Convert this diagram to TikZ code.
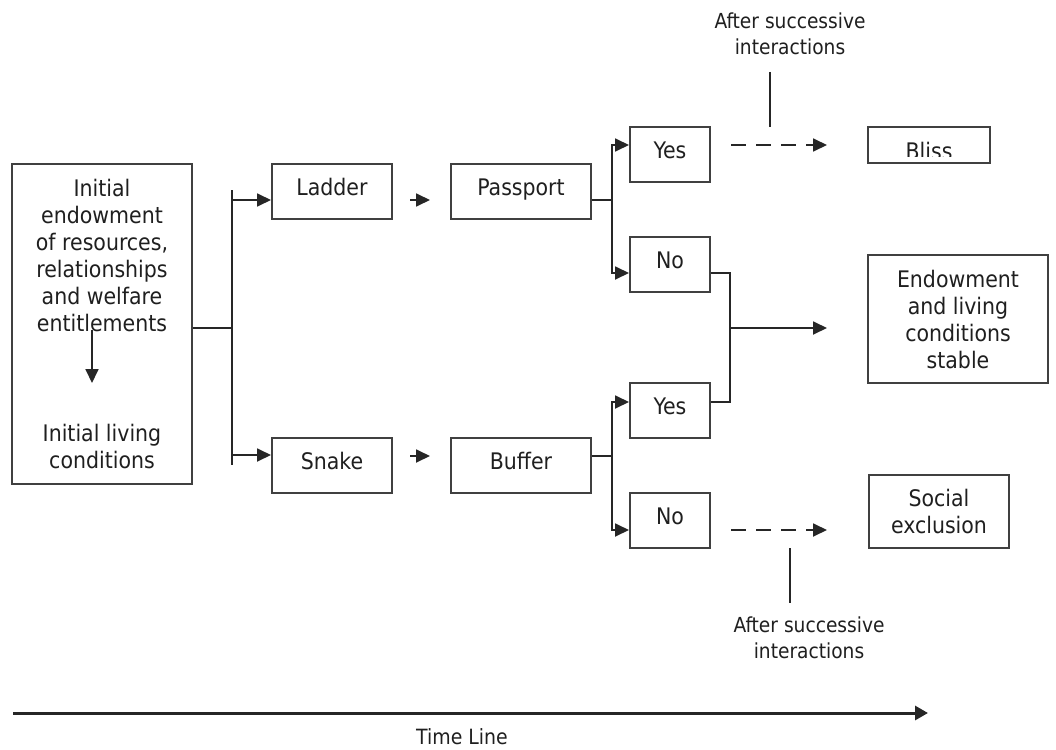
\documentclass[tikz,border=0pt]{standalone}
\usepackage{fontspec}
\setmainfont{DejaVu Sans Condensed}
\usetikzlibrary{arrows.meta,calc}
\begin{document}
\begin{tikzpicture}[x=1pt,y=-1pt,
  boxline/.style={draw=black!75,line width=2pt},
  box/.style={boxline,inner sep=0pt,minimum width=#1,minimum height=55pt,
    text height=16.6pt,text depth=8pt,font=\fontsize{22.8}{27}\selectfont,text=black!88},
  box/.default=80pt,
  mbox/.style={boxline,inner sep=0pt,align=center,font=\fontsize{22.8}{27}\selectfont,text=black!88},
  txt/.style={inner sep=0pt,align=center,font=\fontsize{22.8}{27}\selectfont,text=black!88},
  note/.style={inner sep=0pt,align=center,font=\fontsize{20.7}{26}\selectfont,text=black!88},
  conn/.style={line width=1.8pt,draw=black!85},
  arr/.style={conn,-{Triangle[length=14pt,width=13pt]}},
  dasharr/.style={arr,dash pattern=on 15pt off 10pt}
]
\useasboundingbox (0,0) rectangle (1056,749);

% initial box
\node[boxline,minimum width=180pt,minimum height=320pt,inner sep=0pt] (init) at (102,324) {};
\node[txt] (endow) at (102,255) {Initial\\endowment\\of resources,\\relationships\\and welfare\\entitlements};
\node[txt] (livc) at (102,446) {Initial living\\conditions};
\coordinate (ia) at (92,330);
\coordinate (ib) at (92,383);
\draw[arr] (ia) -- (ib);

% second column
\node[box=120pt] (ladder) at (332,191.5) {Ladder};
\node[box=120pt] (snake) at (332,465.5) {Snake};
\node[box=140pt] (passport) at (521,191.5) {Passport};
\node[box=140pt] (buffer) at (521,465.5) {Buffer};

% yes / no boxes
\node[box] (yes1) at (670,154.5) {Yes};
\node[box] (no1) at (670,264.5) {No};
\node[box] (yes2) at (670,410.5) {Yes};
\node[box] (no2) at (670,520.5) {No};

% outcomes
\node[boxline,minimum width=122pt,minimum height=36pt,inner sep=0pt] (bliss) at (929,145) {};
\begin{scope}
  \clip (868,127) rectangle (990,156);
  \node[txt,anchor=base] (blisstext) at (929,159.6) {Bliss};
\end{scope}
\node[mbox,minimum width=180pt,minimum height=128pt] (endst) at (958,319) {Endowment\\and living\\conditions\\stable};
\node[mbox,minimum width=140pt,minimum height=73pt] (social) at (939,511.5) {Social\\exclusion};

% bracket from initial box
\coordinate (bt) at (232,190);
\coordinate (bb) at (232,465);
\coordinate (io) at ([yshift=-4pt]init.east);
\draw[conn] (io) -- (io -| bt);
\draw[conn] (bt) -- (bb);
\coordinate (la) at ([yshift=-8.5pt]ladder.west);
\coordinate (sa) at ([yshift=10.5pt]snake.west);
\draw[arr] (bt |- la) -- (la);
\draw[arr] (bt |- sa) -- (sa);

% short arrows
\draw[arr,shorten <=17pt,shorten >=20pt] ([yshift=-8.5pt]ladder.east) -- ([yshift=-8.5pt]passport.west);
\draw[arr,shorten <=17pt,shorten >=20pt] ([yshift=9.5pt]snake.east) -- ([yshift=9.5pt]buffer.west);

% passport split
\coordinate (po) at ([yshift=-8.5pt]passport.east);
\coordinate (pv) at ([xshift=20pt]po);
\draw[conn] (po) -- (pv);
\draw[arr] (pv) |- ([yshift=9.5pt]yes1.west);
\draw[arr] (pv) |- ([yshift=-8.5pt]no1.west);

% buffer split
\coordinate (bo) at ([yshift=9.5pt]buffer.east);
\coordinate (bv) at ([xshift=20pt]bo);
\draw[conn] (bo) -- (bv);
\draw[arr] (bv) |- ([yshift=8.5pt]yes2.west);
\draw[arr] (bv) |- ([yshift=-9.5pt]no2.west);

% merge to stable
\coordinate (mj) at (730,328);
\draw[conn] ([yshift=-8.5pt]no1.east) -| (mj);
\draw[conn] ([yshift=8.5pt]yes2.east) -| (mj);
\draw[arr] (mj) -- ([xshift=-40pt,yshift=-9pt]endst.west);

% dashed arrows
\draw[dasharr] ([xshift=20pt,yshift=9.5pt]yes1.east) -- ([xshift=-40pt]bliss.west);
\draw[dasharr] ([xshift=20pt,yshift=-9.5pt]no2.east) -- ([xshift=-41pt,yshift=-18.5pt]social.west);

% annotations
\node[note] (aft1) at (790,34) {After successive\\interactions};
\coordinate (a1a) at (770,72);
\coordinate (a1b) at (770,127);
\draw[conn,line width=1.5pt] (a1a) -- (a1b);
\node[note] (aft2) at (809,638) {After successive\\interactions};
\coordinate (a2a) at (790,548);
\coordinate (a2b) at (790,603);
\draw[conn,line width=1.5pt] (a2a) -- (a2b);

% time line
\coordinate (tl0) at (13,713);
\coordinate (tl1) at (928,713);
\draw[conn,line width=3pt,-{Triangle[length=13pt,width=14pt]}] (tl0) -- (tl1);
\node[note,font=\fontsize{21}{26}\selectfont] (tltext) at (462,737) {Time Line};
\end{tikzpicture}
\end{document}
